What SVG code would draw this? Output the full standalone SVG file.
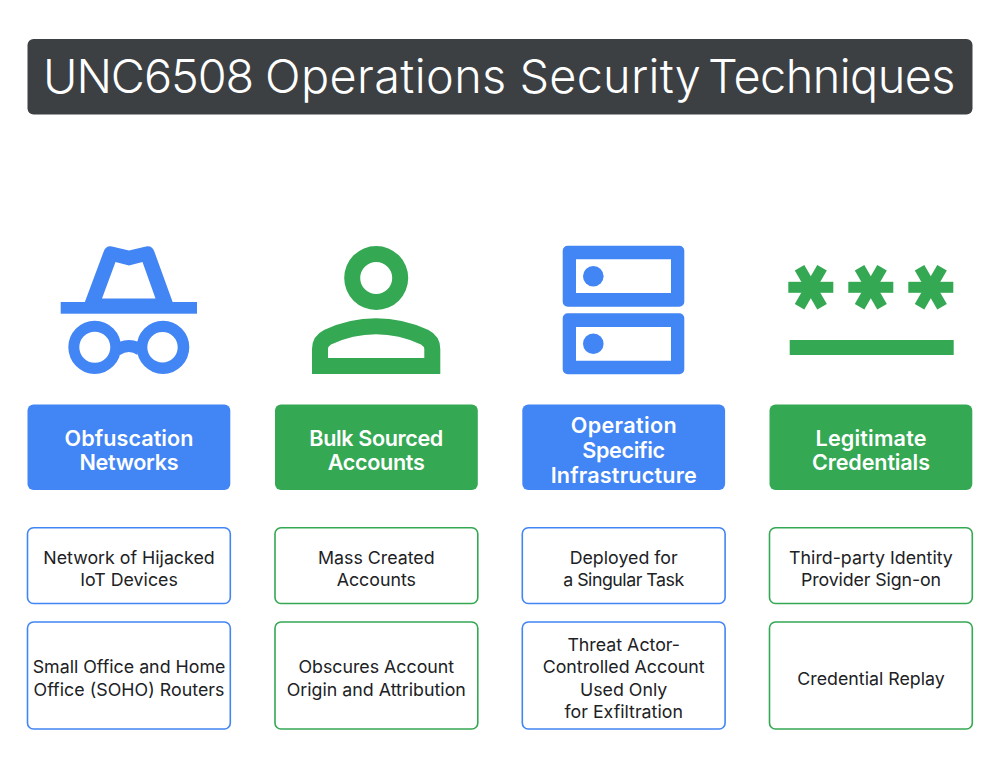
<svg xmlns="http://www.w3.org/2000/svg" width="1000" height="776" viewBox="0 0 1000 776">
<style>
text{font-family:"Inter","Roboto","Liberation Sans",sans-serif;text-anchor:middle}
.t{font-size:46.8px;fill:#fff;font-weight:365;text-anchor:start}
.h{font-size:21.6px;fill:#fff;font-weight:600}
.b{font-size:17.8px;fill:#202124;font-weight:400}
.bb{fill:#4285f4}.gg{fill:#34a853}
.sb{fill:#fff;stroke:#4285f4;stroke-width:1.6}
.sg{fill:#fff;stroke:#34a853;stroke-width:1.6}
</style>
<defs>
<g id="ast"><rect x="-22.5" y="-5.5" width="45" height="11"/><rect x="-22.5" y="-5.5" width="45" height="11" transform="rotate(60)"/><rect x="-22.5" y="-5.5" width="45" height="11" transform="rotate(120)"/></g>
</defs>
<rect width="1000" height="776" fill="#fff"/>
<g id="title"><rect x="27.5" y="39" width="945" height="75.5" rx="6" fill="#3c4043"/><text class="t" y="92.500"><tspan x="43" letter-spacing="-1.05">UNC6508 </tspan><tspan x="265" letter-spacing="0.4">Operations </tspan><tspan x="519.500" letter-spacing="0.25">Security </tspan><tspan x="708" letter-spacing="-0.55">Techniques</tspan></text></g>
<g id="icon-hat" class="bb">
<rect x="60.7" y="302" width="136.3" height="11.7"/>
<path fill-rule="evenodd" d="M84.5 303L103.5 252Q105.5 245.500 112 246.500L129 250.500L146 246.500Q152.500 245.500 154.500 252L173 303ZM102 298.500H155.500L142.500 262L129 265.500L115.500 262Z"/>
<path fill-rule="evenodd" d="M68.300 347.300a26.400 26.600 0 1 0 52.800 0a26.400 26.600 0 1 0-52.800 0ZM79.300 347.300a15.500 15.500 0 1 1 31 0a15.500 15.500 0 1 1-31 0Z"/>
<path fill-rule="evenodd" d="M136.700 347.300a26.300 26.600 0 1 0 52.600 0a26.300 26.600 0 1 0-52.600 0ZM147.300 347.300a15.200 15.200 0 1 1 30.400 0a15.200 15.200 0 1 1-30.400 0Z"/>
<path d="M119 342Q129 338 139 342L137.500 355Q129 349 120 355Z"/>
</g>
<g id="icon-person" class="gg">
<path fill-rule="evenodd" d="M344.200 278a32 32 0 1 0 64 0a32 32 0 1 0-64 0ZM360.200 278a16 16 0 1 1 32 0a16 16 0 1 1-32 0Z"/>
<path fill-rule="evenodd" d="M312 374V349Q312 336 324 330Q349 318.300 376 318.300Q403 318.300 428.500 330Q440.300 336 440.300 349V374ZM328 358H424.300V349Q424.300 346.500 421 344.500Q399 334.300 376 334.300Q353 334.300 331 344.500Q328 346.500 328 349Z"/>
</g>
<g id="icon-server" class="bb">
<path fill-rule="evenodd" d="M567.700 245.700H679.300a5 5 0 0 1 5 5V301.700a5 5 0 0 1-5 5H567.700a5 5 0 0 1-5-5V250.700a5 5 0 0 1 5-5ZM576 259.300V293H671V259.300Z"/>
<circle cx="593.300" cy="276.300" r="10.300"/>
<path fill-rule="evenodd" d="M567.700 313.300H679.300a5 5 0 0 1 5 5V369.300a5 5 0 0 1-5 5H567.700a5 5 0 0 1-5-5V318.300a5 5 0 0 1 5-5ZM576 327V360.700H671V327Z"/>
<circle cx="593.300" cy="343.700" r="10.300"/>
</g>
<g id="icon-password" class="gg">
<use href="#ast" x="810.800" y="287.300"/>
<use href="#ast" x="870.800" y="287.300"/>
<use href="#ast" x="930.800" y="287.300"/>
<rect x="789.700" y="340" width="164" height="15"/>
</g>
<g id="col1">
<g id="head-1"><rect class="bb" x="27.500" y="404.500" width="202.800" height="85.500" rx="6"/><text class="h" x="129" y="445.500" textLength="129">Obfuscation</text><text class="h" x="129" y="470" textLength="99">Networks</text></g>
<g id="box-1a"><rect class="sb" x="27.500" y="527.800" width="202.800" height="75.700" rx="6"/><text class="b" x="129" y="564">Network of Hijacked</text><text class="b" x="129" y="586">IoT Devices</text></g>
<g id="box-1b"><rect class="sb" x="27.500" y="622" width="202.800" height="107" rx="6"/><text class="b" x="129" y="673.300">Small Office and Home</text><text class="b" x="129" y="695.500" textLength="191">Office (SOHO) Routers</text></g>
</g>
<g id="col2">
<g id="head-2"><rect class="gg" x="275" y="404.500" width="202.800" height="85.500" rx="6"/><text class="h" x="376.300" y="445.500" textLength="134">Bulk Sourced</text><text class="h" x="376.300" y="470" textLength="97">Accounts</text></g>
<g id="box-2a"><rect class="sg" x="275" y="527.800" width="202.800" height="75.700" rx="6"/><text class="b" x="376.300" y="564">Mass Created</text><text class="b" x="376.300" y="586">Accounts</text></g>
<g id="box-2b"><rect class="sg" x="275" y="622" width="202.800" height="107" rx="6"/><text class="b" x="376.300" y="673.300">Obscures Account</text><text class="b" x="376.300" y="695.500">Origin and Attribution</text></g>
</g>
<g id="col3">
<g id="head-3"><rect class="bb" x="522.300" y="404.500" width="202.800" height="85.500" rx="6"/><text class="h" x="623.700" y="433" textLength="106">Operation</text><text class="h" x="623.700" y="458" textLength="83">Specific</text><text class="h" x="623.700" y="482.500" textLength="146">Infrastructure</text></g>
<g id="box-3a"><rect class="sb" x="522.300" y="527.800" width="202.800" height="75.700" rx="6"/><text class="b" x="623.700" y="564">Deployed for</text><text class="b" x="623.700" y="586" textLength="121">a Singular Task</text></g>
<g id="box-3b"><rect class="sb" x="522.300" y="622" width="202.800" height="107" rx="6"/><text class="b" x="623.700" y="651">Threat Actor-</text><text class="b" x="623.700" y="673.300">Controlled Account</text><text class="b" x="623.700" y="695.500">Used Only</text><text class="b" x="623.700" y="718">for Exfiltration</text></g>
</g>
<g id="col4">
<g id="head-4"><rect class="gg" x="769.500" y="404.500" width="202.800" height="85.500" rx="6"/><text class="h" x="871" y="445.500" textLength="111">Legitimate</text><text class="h" x="871" y="470" textLength="118">Credentials</text></g>
<g id="box-4a"><rect class="sg" x="769.500" y="527.800" width="202.800" height="75.700" rx="6"/><text class="b" x="871" y="564">Third-party Identity</text><text class="b" x="871" y="586" textLength="140">Provider Sign-on</text></g>
<g id="box-4b"><rect class="sg" x="769.500" y="622" width="202.800" height="107" rx="6"/><text class="b" x="871" y="684.500">Credential Replay</text></g>
</g>
</svg>
